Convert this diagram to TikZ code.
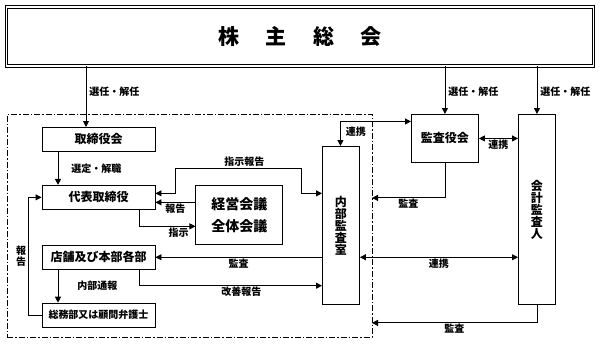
\documentclass[tikz,border=0pt]{standalone}
\usepackage{fontspec}
\setmainfont{Noto Sans CJK JP}
\usetikzlibrary{arrows.meta, positioning}

\begin{document}
\begin{tikzpicture}[
    x=1pt, y=-1pt,
    box/.style={rectangle, draw=black, line width=0.9pt, minimum width=113pt, minimum height=24pt, align=center, inner sep=0pt, font=\bfseries\fontsize{12}{12}\selectfont},
    arrow/.style={-{Triangle[length=6pt,width=6pt]}, line width=0.9pt},
    both/.style={{Triangle[length=6pt,width=6pt]}-{Triangle[length=6pt,width=6pt]}, line width=0.9pt},
    lbl/.style={font=\bfseries\fontsize{10}{11}\selectfont, inner sep=1pt, align=center}
]
\useasboundingbox (0,0) rectangle (600,343);

% dash-dot frame round the company side
\node (inside) [draw, line width=0.8pt, dash pattern=on 6pt off 2pt on 1.5pt off 2pt, minimum width=365pt, minimum height=223pt, inner sep=0pt, outer sep=0pt, anchor=north west] at (7,114) {};

\node (agm) [draw, double, double distance=1.6pt, line width=0.8pt, minimum width=587pt, minimum height=59pt, font=\bfseries\fontsize{21}{21}\selectfont] at (300,36.5) {株\hspace{1.25em}主\hspace{1.25em}総\hspace{1.25em}会};

\node (board) [box, anchor=north] at (98.5,127) {取締役会};
\node (ceo) [box, below=33pt of board] {代表取締役};
\node (store) [box, below=35pt of ceo] {店舗及び本部各部};
\node (legal) [box, below=33pt of store, font=\bfseries\fontsize{10}{10}\selectfont] {総務部又は顧問弁護士};
\node (meeting) [box, minimum width=87pt, minimum height=59pt, font=\bfseries\fontsize{14}{22}\selectfont, right=40pt of ceo.north east, anchor=north west] {経営会議\\全体会議};

\node (audit) [box, minimum width=37pt, minimum height=158pt, anchor=north west] at (322,146) {内\\部\\監\\査\\室};
\node (kansayaku) [box, minimum width=67pt, minimum height=48pt, anchor=north west] at (411,114) {監査役会};
\node (auditor) [box, minimum width=37pt, minimum height=190pt, anchor=north west] at (518,114) {会\\計\\監\\査\\人};

% helper points for the bends
\coordinate (ir0) at ([yshift=4pt]ceo.east);
\coordinate (ir1) at (175,168);
\coordinate (ir2) at (301,168);
\coordinate (ir3) at ([yshift=-5pt]ceo.east);
\coordinate (ir4) at ([yshift=-16pt]store.south);
\coordinate (ir5) at ([yshift=-35pt]kansayaku.south);
\coordinate (ir6) at ([yshift=-18pt]auditor.south);
\coordinate (ir7) at ([yshift=17pt]kansayaku.west);

% election
\draw [arrow] ([xshift=-12.5pt]board.north |- agm.south) -- node[lbl, right=2pt, pos=0.42] {選任・解任} ([xshift=-12.5pt]board.north);
\draw [arrow] (kansayaku.north |- agm.south) -- node[lbl, right=2pt, pos=0.53] {選任・解任} (kansayaku.north);
\draw [arrow] (auditor.north |- agm.south) -- node[lbl, right=2pt, pos=0.53] {選任・解任} (auditor.north);

% inside the company
\draw [arrow] ([xshift=-40.5pt]board.south) -- node[lbl, right=12pt] {選定・解職} ([xshift=-40.5pt]ceo.north);
\draw [both] (ir0) -| (ir1) -- node[lbl, above, pos=0.55] {指示報告} (ir2) |- (audit.west |- ir0);
\draw [arrow] (meeting.west |- ir3) -- node[lbl, below] {報告} (ir3);
\draw [arrow] ([xshift=40.5pt]ceo.south) |- node[lbl, below, pos=0.85] {指示} ([yshift=-11.5pt]meeting.west);
\draw [arrow] (audit.west |- store.east) -- node[lbl, below] {監査} (store.east);
\draw [arrow] ([xshift=40.5pt]store.south) |- node[lbl, below, pos=0.78] {改善報告} (audit.west |- ir4);
\draw [arrow] ([xshift=-40.5pt]store.south) -- node[lbl, right=18pt] {内部通報} ([xshift=-40.5pt]legal.north);
\draw [arrow] (legal.west) -- ++(-13,0) |- node[lbl, left=1pt, pos=0.25] {報\\告} (ceo.west);

% audit side
\draw [both] ([xshift=-0.5pt]audit.north) |- node[lbl, right=4pt, pos=0.3] {連携} (ir7);
\draw [both] (kansayaku.east) -- node[lbl, below] {連携} (auditor.west |- kansayaku.east);
\draw [arrow] (kansayaku.south) |- node[lbl, below, pos=0.75] {監査} (inside.east |- ir5);
\draw [both] (audit.east |- store.east) -- node[lbl, below] {連携} (auditor.west |- store.east);
\draw [arrow] (auditor.south) |- node[lbl, below, pos=0.75] {監査} (inside.east |- ir6);

\end{tikzpicture}
\end{document}
